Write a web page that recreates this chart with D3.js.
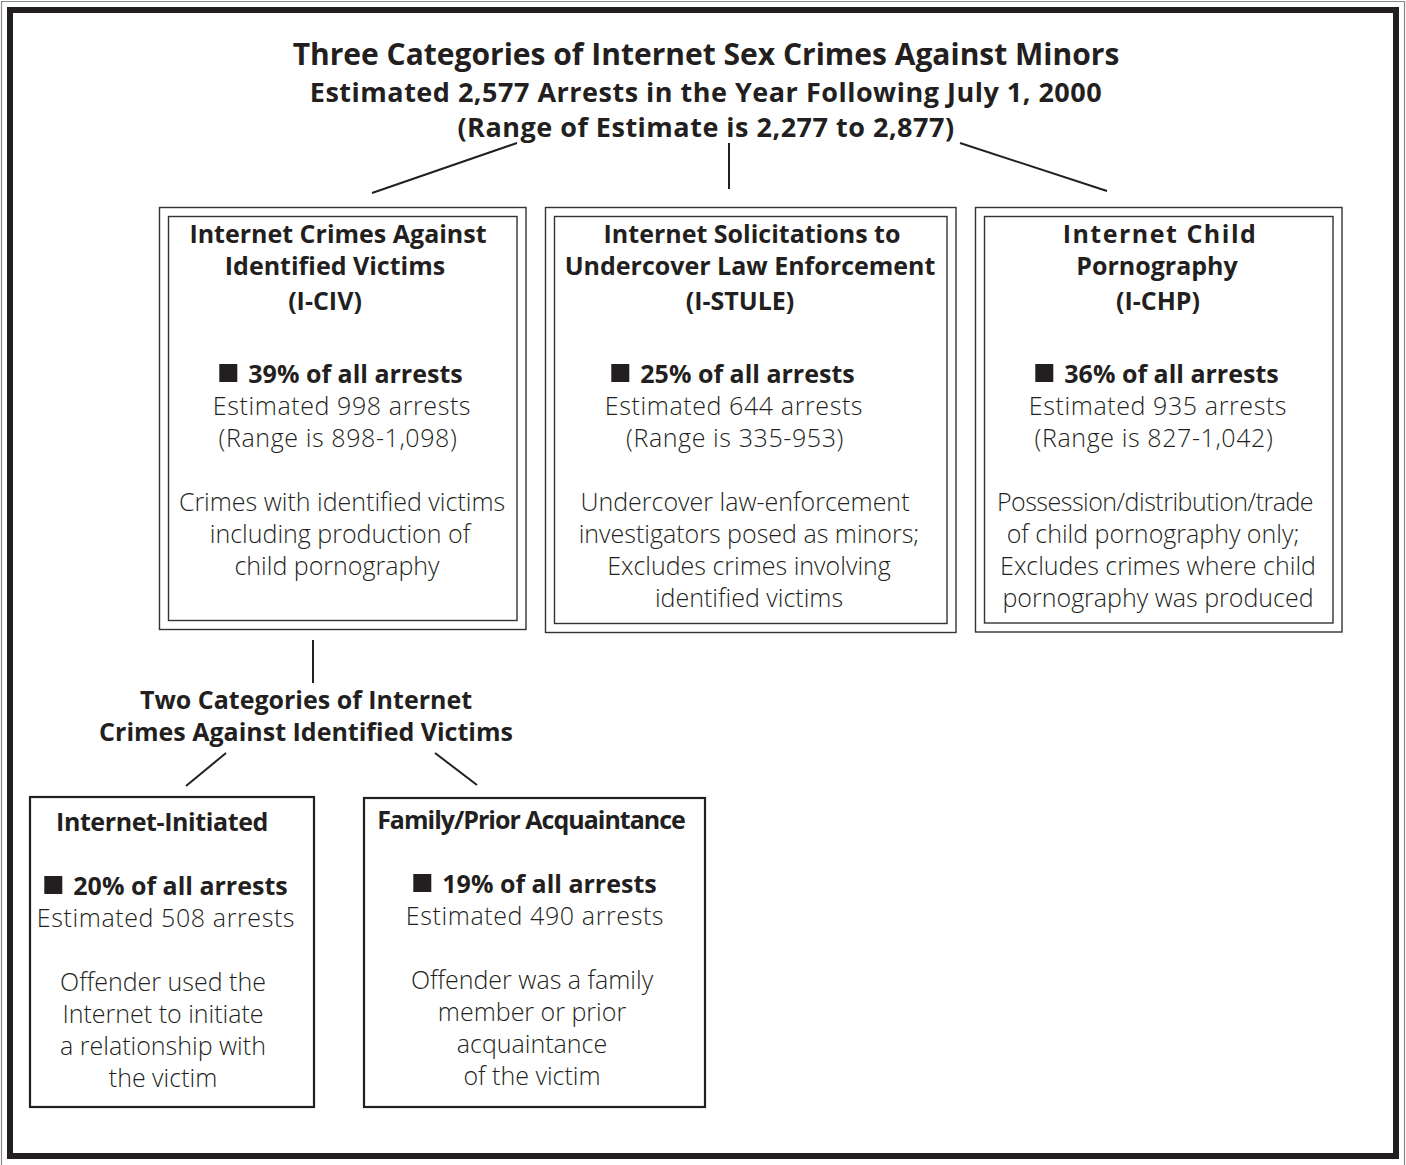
<!DOCTYPE html>
<html>
<head>
<meta charset="utf-8">
<script src="https://cdn.jsdelivr.net/npm/d3@7"></script>
<style>
  body { margin: 0; background: #fff; }
  svg { display: block; }
  text { fill: #231f20; }
</style>
</head>
<body>
<svg id="chart" width="1406" height="1165"></svg>
<script>
// ---------- data ----------
const titleLines = [
  "Three Categories of Internet Sex Crimes Against Minors",
  "Estimated 2,577 Arrests in the Year Following July 1, 2000",
  "(Range of Estimate is 2,277 to 2,877)"
];
const categoryNames = [
  ["Internet Crimes Against", "Identified Victims"],
  ["Internet Solicitations to", "Undercover Law Enforcement"],
  ["Internet Child", "Pornography"]
];
const categoryCodes = ["(I-CIV)", "(I-STULE)", "(I-CHP)"];
const categoryPct = [39, 25, 36];
const categoryArrests = [998, 644, 935];
const categoryRangeLow = [898, 335, 827];
const categoryRangeHigh = [1098, 953, 1042];
const categoryDesc = [
  ["Crimes with identified victims", "including production of", "child pornography"],
  ["Undercover law-enforcement", "investigators posed as minors;", "Excludes crimes involving", "identified victims"],
  ["Possession/distribution/trade", "of child pornography only;", "Excludes crimes where child", "pornography was produced"]
];
const subHeading = ["Two Categories of Internet", "Crimes Against Identified Victims"];
const subNames = ["Internet-Initiated", "Family/Prior Acquaintance"];
const subPct = [20, 19];
const subArrests = [508, 490];
const subDesc = [
  ["Offender used the", "Internet to initiate", "a relationship with", "the victim"],
  ["Offender was a family", "member or prior", "acquaintance", "of the victim"]
];

// ---------- layout ----------
const W = 1406, H = 1165;
const svg = d3.select("#chart");
const INK = "#231f20";
const FONT = "'Open Sans', 'Noto Sans', sans-serif";
const fmt = d3.format(",");

// frames
svg.append("path").attr("d", `M1.5,${H} V1.5 H1404.5 V${H}`)
  .attr("fill", "none").attr("stroke", "#888").attr("stroke-width", 1.2);
svg.append("rect").attr("x", 10).attr("y", 10).attr("width", 1386).attr("height", 1146)
  .attr("fill", "none").attr("stroke", INK).attr("stroke-width", 6);

// title
const titleSizes = [30, 27, 27];
const titleLS = [0, 0.5, 0.5];
const titleY = [65, 102, 137];
titleLines.forEach((t, i) => {
  svg.append("text").attr("x", 706).attr("y", titleY[i]).attr("text-anchor", "middle")
    .style("font-family", FONT).style("font-weight", 700).style("font-size", titleSizes[i] + "px")
    .style("letter-spacing", titleLS[i] + "px").text(t);
});

// connector lines
const conn = [
  [[517, 143], [372, 193]],
  [[729, 143], [729, 189]],
  [[960, 143], [1107, 191]],
  [[313, 640], [313, 683]],
  [[226, 753], [186, 786]],
  [[435, 753], [477, 785]]
];
svg.selectAll("line.conn").data(conn).enter().append("line").attr("class", "conn")
  .attr("x1", d => d[0][0]).attr("y1", d => d[0][1]).attr("x2", d => d[1][0]).attr("y2", d => d[1][1])
  .attr("stroke", INK).attr("stroke-width", 2);

// category boxes (double border)
const boxes = [
  { x0: 159.5, x1: 526, y0: 207.5, y1: 629.5 },
  { x0: 545.5, x1: 956, y0: 207.5, y1: 632.5 },
  { x0: 975.5, x1: 1342, y0: 207.5, y1: 632 }
];
boxes.forEach(b => {
  svg.append("rect").attr("x", b.x0).attr("y", b.y0).attr("width", b.x1 - b.x0).attr("height", b.y1 - b.y0)
    .attr("fill", "none").attr("stroke", "#333").attr("stroke-width", 1.4);
  svg.append("rect").attr("x", b.x0 + 9).attr("y", b.y0 + 9).attr("width", b.x1 - b.x0 - 18).attr("height", b.y1 - b.y0 - 18)
    .attr("fill", "none").attr("stroke", "#333").attr("stroke-width", 1.4);
});

const headCx = [[338, 335, 325], [752, 750, 740], [1160, 1157, 1158]];
const statCx = [[341, 342, 338], [733, 734, 735], [1157, 1158, 1154]];
const descCx = [[342, 340, 337], [745, 749, 749, 749], [1155, 1153, 1158, 1158]];
const descLS = [[0, 0, 0], [0, 0, 0, 0], [-0.5, 0, 0, 0]];

const HS = 25, BS = 25, STAT_LS = "0.6px";

function pctLine(g, cx, y, pct) {
  const t = g.append("text").attr("y", y).attr("text-anchor", "start")
    .style("font-family", FONT).style("font-weight", 700).style("font-size", HS + "px")
    .text(`${pct}% of all arrests`);
  const w = t.node().getComputedTextLength();
  const sq = 18, gap = 11;
  const total = sq + gap + w;
  const left = cx - total / 2;
  g.append("rect").attr("x", left).attr("y", y - 19).attr("width", sq).attr("height", sq).attr("fill", INK);
  t.attr("x", left + sq + gap);
}

categoryNames.forEach((lines, i) => {
  const g = svg.append("g");
  const hc = headCx[i], sc = statCx[i], dc = descCx[i];
  lines.forEach((l, j) => {
    g.append("text").attr("x", hc[j]).attr("y", 243 + j * 32).attr("text-anchor", "middle")
      .style("font-family", FONT).style("font-weight", 700).style("font-size", HS + "px")
      .style("letter-spacing", i === 2 && j === 0 ? "1.5px" : "0px").text(l);
  });
  g.append("text").attr("x", hc[2]).attr("y", 310).attr("text-anchor", "middle")
    .style("font-family", FONT).style("font-weight", 700).style("font-size", HS + "px").text(categoryCodes[i]);
  pctLine(g, sc[0], 383, categoryPct[i]);
  g.append("text").attr("x", sc[1]).attr("y", 415).attr("text-anchor", "middle")
    .style("font-family", FONT).style("font-weight", 300).style("font-size", BS + "px")
    .style("letter-spacing", STAT_LS)
    .text(`Estimated ${fmt(categoryArrests[i])} arrests`);
  g.append("text").attr("x", sc[2]).attr("y", 447).attr("text-anchor", "middle")
    .style("font-family", FONT).style("font-weight", 300).style("font-size", BS + "px")
    .style("letter-spacing", STAT_LS)
    .text(`(Range is ${fmt(categoryRangeLow[i])}-${fmt(categoryRangeHigh[i])})`);
  categoryDesc[i].forEach((l, j) => {
    g.append("text").attr("x", dc[j]).attr("y", 511 + j * 32).attr("text-anchor", "middle")
      .style("font-family", FONT).style("font-weight", 300).style("font-size", BS + "px")
      .style("letter-spacing", descLS[i][j] + "px").text(l);
  });
});

// sub heading
subHeading.forEach((l, j) => {
  svg.append("text").attr("x", 306).attr("y", 709 + j * 32).attr("text-anchor", "middle")
    .style("font-family", FONT).style("font-weight", 700).style("font-size", HS + "px").text(l);
});

// sub boxes
const subBoxes = [
  { x0: 30, x1: 314, y0: 797, y1: 1107, cx: 164, headY: 831, statY: 895 },
  { x0: 364, x1: 705, y0: 798, y1: 1107, cx: 533, headY: 829, statY: 893 }
];
subBoxes.forEach((b, i) => {
  svg.append("rect").attr("x", b.x0).attr("y", b.y0).attr("width", b.x1 - b.x0).attr("height", b.y1 - b.y0)
    .attr("fill", "none").attr("stroke", INK).attr("stroke-width", 2.2);
  svg.append("text").attr("x", b.cx - 2).attr("y", b.headY).attr("text-anchor", "middle")
    .style("font-family", FONT).style("font-weight", 700).style("font-size", HS + "px")
    .style("letter-spacing", i === 1 ? "-1px" : "-0.4px").text(subNames[i]);
  pctLine(svg, b.cx + 2, b.statY, subPct[i]);
  svg.append("text").attr("x", b.cx + 2).attr("y", b.statY + 32).attr("text-anchor", "middle")
    .style("font-family", FONT).style("font-weight", 300).style("font-size", BS + "px")
    .style("letter-spacing", STAT_LS)
    .text(`Estimated ${fmt(subArrests[i])} arrests`);
  subDesc[i].forEach((l, j) => {
    svg.append("text").attr("x", b.cx - 1).attr("y", b.statY + 96 + j * 32).attr("text-anchor", "middle")
      .style("font-family", FONT).style("font-weight", 300).style("font-size", BS + "px").text(l);
  });
});
</script>
</body>
</html>
